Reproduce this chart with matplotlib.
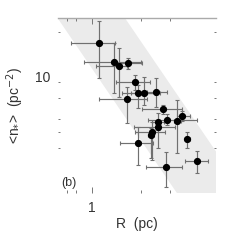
import matplotlib
matplotlib.use("Agg")
import matplotlib.pyplot as plt
import matplotlib.transforms as mtransforms
import numpy as np

# radius R (pc) and mean surface density <n*> (pc^-2)
R = [1.109, 1.370, 1.464, 1.656, 1.843, 1.907, 2.076, 1.633, 2.459, 2.716, 2.884,
     2.530, 3.550, 3.336, 2.530, 2.324, 2.301, 3.843, 1.923, 2.833, 4.430]
n = [17.1, 13.14, 12.54, 12.96, 10.0, 8.62, 8.59, 7.87, 8.74, 6.85, 5.93,
     5.77, 6.21, 5.80, 5.38, 5.02, 4.79, 4.52, 4.27, 3.06, 3.33]
R_lo = [0.743, 0.897, 1.054, 1.418, 1.398, 1.528, 1.735, 1.109, 2.166, 2.018, 2.206,
        2.350, 3.310, 3.200, 1.810, 1.835, 2.200, 3.700, 1.485, 2.145, 3.720]
R_hi = [1.384, 2.000, 1.633, 2.018, 2.270, 2.435, 2.613, 2.166, 2.897, 3.550, 4.410,
        2.750, 3.990, 3.500, 3.230, 2.805, 2.400, 4.000, 2.377, 3.550, 5.170]
n_lo = [10.6, 8.55, 8.15, 12.0, 9.0, 6.94, 7.27, 5.64, 7.1, 6.4, 5.5,
        4.0, 5.8, 3.72, 5.1, 3.39, 3.47, 3.99, 3.16, 2.34, 2.82]
n_hi = [23.3, 17.1, 16.0, 14.0, 11.0, 9.6, 10.76, 9.37, 10.5, 7.3, 6.4,
        6.51, 6.7, 7.79, 5.7, 5.77, 5.26, 5.02, 5.38, 3.80, 3.84]

# shaded band n = A * R^slope
band_slope = -1.44
band_lo = 12.04
band_hi = 47.5

R = np.array(R); n = np.array(n)
xerr = [R - np.array(R_lo), np.array(R_hi) - R]
yerr = [n - np.array(n_lo), np.array(n_hi) - n]

plt.rcParams['font.family'] = ['Liberation Sans', 'DejaVu Sans']
plt.rcParams['mathtext.fontset'] = 'dejavusans'

fig = plt.figure(figsize=(2.45, 2.40), dpi=100)
ax = fig.add_axes([0.2347, 0.1958, 0.6469, 0.7292])

xx = np.logspace(-0.5, 1.0, 50)
ax.fill_between(xx, band_lo * xx ** band_slope, band_hi * xx ** band_slope,
                color='#ebebeb', lw=0, zorder=0)

ax.errorbar(R, n, xerr=xerr, yerr=yerr, fmt='none', ecolor='#707070',
            elinewidth=0.85, capsize=1.2, capthick=0.8, zorder=2)
ax.plot(R, n, 'o', color='black', ms=4.2, zorder=3)

ax.set_xscale('log')
ax.set_yscale('log')
ax.set_xlim(0.614, 5.77)
ax.set_ylim(2.14, 24.3)

ax.set_xticks([1])
ax.set_xticklabels(['1'])
ax.set_xticks([0.7, 0.8, 2, 3], minor=True)
ax.set_xticklabels([], minor=True)
ax.set_yticks([10])
ax.set_yticklabels(['10'])
ax.set_yticks([4, 5, 6, 8, 20], minor=True)
ax.set_yticklabels([], minor=True)

for s in ['left', 'right', 'bottom']:
    ax.spines[s].set_visible(False)
ax.spines['top'].set_color('#aaaaaa')
ax.spines['top'].set_linewidth(1.0)

ax.tick_params(axis='x', which='both', direction='in', top=True, bottom=True,
               color='#777777', width=0.7, labelsize=10, labelcolor='#333333')
ax.tick_params(axis='x', which='major', length=4, pad=6)
ax.tick_params(axis='x', which='minor', length=2)
ax.tick_params(axis='y', which='both', direction='in', left=True, right=True,
               length=1.5, color='#777777', width=0.7, labelsize=10,
               labelcolor='#333333', pad=5)
shift = mtransforms.ScaledTranslation(0, 4 / 72, fig.dpi_scale_trans)
for lab in ax.get_yticklabels():
    lab.set_transform(lab.get_transform() + shift)

ax.set_xlabel('R  (pc)', fontsize=10, color='#333333')
ax.set_ylabel(r'<n$_{*}$>  (pc$^{-2}$)', fontsize=10, color='#333333')
ax.xaxis.set_label_coords(0.5, -0.135)
ax.yaxis.set_label_coords(-0.2, 0.5)

ax.text(0.022, 0.057, '(b)', transform=ax.transAxes, fontsize=9,
        color='#333333', ha='left', va='center')

fig.savefig('out.png', dpi=100)
